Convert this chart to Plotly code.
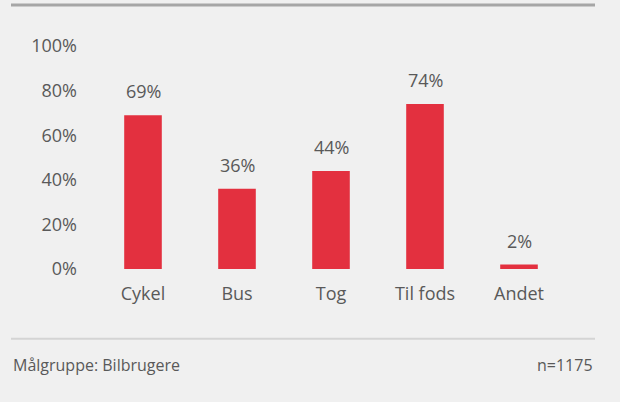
import plotly.graph_objects as go

categories = ["Cykel", "Bus", "Tog", "Til fods", "Andet"]
values = [69, 36, 44, 74, 2]
value_labels = ["69%", "36%", "44%", "74%", "2%"]
tick_vals = [0, 20, 40, 60, 80, 100]
tick_text = ["0%", "20%", "40%", "60%", "80%", "100%"]
footer_left = "Målgruppe: Bilbrugere"
footer_right = "n=1175"

W, H = 620, 402
L, R, T, B = 96, 54, 46, 133
pw, ph = W - L - R, H - T - B

def px(x):
    return (x - L) / pw

def py(y):
    return (H - B - y) / ph

BG = "#f0f0f0"
TXT = "#595959"
RED = "#e3303f"
FONT = "Open Sans"

fig = go.Figure()
fig.add_trace(go.Bar(x=categories, y=values, marker=dict(color=RED, line=dict(width=0)),
                     hoverinfo="skip"))

for c, v, t in zip(categories, values, value_labels):
    fig.add_annotation(x=c, y=v, text=t, showarrow=False, yanchor="middle",
                       yshift=24, font=dict(family=FONT, size=18, color=TXT))

fig.add_shape(type="line", xref="paper", yref="paper", x0=px(11), x1=px(595),
              y0=py(5), y1=py(5), line=dict(color="#a6a6a6", width=3))
fig.add_shape(type="line", xref="paper", yref="paper", x0=px(11), x1=px(595),
              y0=py(338.7), y1=py(338.7), line=dict(color="#d4d4d4", width=2))

fig.add_annotation(xref="paper", yref="paper", x=px(11), y=py(365), text=footer_left,
                   showarrow=False, xanchor="left", yanchor="middle",
                   font=dict(family=FONT, size=16, color=TXT))
fig.add_annotation(xref="paper", yref="paper", x=px(595), y=py(365), text=footer_right,
                   showarrow=False, xanchor="right", yanchor="middle",
                   font=dict(family=FONT, size=16, color=TXT))

fig.update_layout(
    width=W, height=H,
    margin=dict(l=L, r=R, t=T, b=B, pad=0),
    paper_bgcolor=BG, plot_bgcolor=BG,
    bargap=0.6, showlegend=False,
    font=dict(family=FONT, size=18, color=TXT),
)
fig.update_xaxes(showgrid=False, showline=False, zeroline=False, ticks="",
                 tickfont=dict(family=FONT, size=18, color=TXT), ticklabelstandoff=12)
fig.update_yaxes(range=[0, 100], tickvals=tick_vals, ticktext=tick_text,
                 showgrid=False, showline=False, zeroline=False, ticks="",
                 tickfont=dict(family=FONT, size=18, color=TXT), ticklabelstandoff=18)

fig.write_html("out.html", config={"displayModeBar": False},
               post_script="document.body.style.margin='0';document.body.style.background='%s';" % BG)
